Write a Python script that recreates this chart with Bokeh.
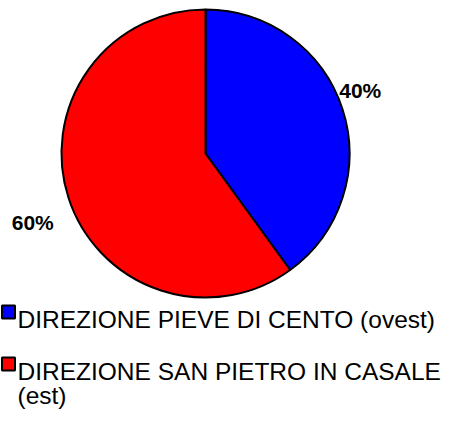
import math
import textwrap
from bokeh.plotting import figure
from bokeh.models import Range1d, ColumnDataSource
from bokeh.core.properties import value
from bokeh.embed import file_html
from bokeh.resources import INLINE

# ---- data ----
categories = ["DIREZIONE PIEVE DI CENTO (ovest)", "DIREZIONE SAN PIETRO IN CASALE (est)"]
shares = [40, 60]
colors = ["#0000FF", "#FF0000"]

# ---- layout constants (pixels) ----
W, H = 442, 411
FONT = "Liberation Sans"
cx, cy, R = 205, H - 153, 144       # pie centre / radius in figure pixels (y up)
label_r = R + 24
label_dx = [-5, -13]
label_dy = [11, -17]

p = figure(width=W, height=H, output_backend="svg", toolbar_location=None,
           x_range=Range1d(0, W), y_range=Range1d(0, H), min_border=0)
p.axis.visible = False
p.grid.visible = False
p.outline_line_color = None
p.background_fill_color = "white"

total = sum(shares)
start = math.radians(90)
starts, ends, lx, ly, ltxt = [], [], [], [], []
for i, s in enumerate(shares):
    sweep = 2 * math.pi * s / total
    end = start
    st = start - sweep
    starts.append(st)
    ends.append(end)
    mid = (st + end) / 2
    lx.append(cx + label_r * math.cos(mid) + label_dx[i])
    ly.append(cy + label_r * math.sin(mid) + label_dy[i])
    ltxt.append(f"{round(100 * s / total)}%")
    start = st

src = ColumnDataSource(dict(start=starts, end=ends, color=colors))
p.wedge(x=cx, y=cy, radius=R, start_angle="start", end_angle="end",
        fill_color="color", line_color="black", line_width=2, source=src)

p.text(x=lx, y=ly, text=ltxt, text_font=value(FONT), text_font_size="21px",
       text_font_style="bold", text_align="center", text_baseline="middle",
       text_color="black")

# legend (visible baselines of first line, screen px from top)
leg_base = [327, 379]
text_corr = 8
line_gap = 24
sq = 13
for i, cat in enumerate(categories):
    top = H - (leg_base[i] - 22)
    p.rect(x=1.5 + sq / 2, y=top - sq / 2, width=sq, height=sq,
           fill_color=colors[i], line_color="black", line_width=2)
    lines = textwrap.wrap(cat, width=32)
    for j, ln in enumerate(lines):
        p.text(x=[17], y=[H - (leg_base[i] - text_corr) - line_gap * j], text=[ln],
               text_font=value(FONT), text_font_size="24.5px", text_align="left",
               text_baseline="alphabetic", text_color="black")

open("out.html", "w").write(file_html(p, INLINE))
